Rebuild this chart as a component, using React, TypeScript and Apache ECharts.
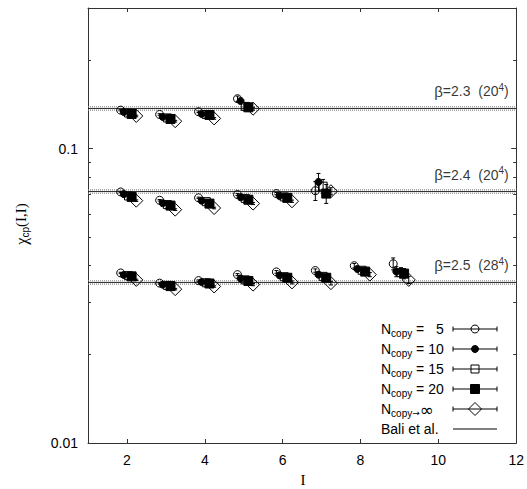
import React, { useEffect, useRef } from 'react';
import * as echarts from 'echarts';

// ---- data ----
const BETAS = ['2.3', '2.4', '2.5'];
const LATTICES = ['20', '20', '28'];
const L_B23 = [2, 3, 4, 5];
const L_B24 = [2, 3, 4, 5, 6, 7];
const L_B25 = [2, 3, 4, 5, 6, 7, 8, 9];
const NCOPY_NAMES = ['5', '10', '15', '20', '∞'];

const B23_N5 = [0.135, 0.1305, 0.1333, 0.1476];
const B23_N10 = [0.133, 0.128, 0.131, 0.145];
const B23_N15 = [0.132, 0.127, 0.1305, 0.139];
const B23_N20 = [0.131, 0.126, 0.13, 0.138];
const B23_NINF = [0.129, 0.1238, 0.1265, 0.1365];

const B24_N5 = [0.0712, 0.0667, 0.068, 0.0698, 0.0703, 0.0719];
const B24_N10 = [0.07, 0.0652, 0.0665, 0.0683, 0.069, 0.077];
const B24_N15 = [0.069, 0.0645, 0.066, 0.0677, 0.0685, 0.0745];
const B24_N20 = [0.0685, 0.064, 0.065, 0.067, 0.068, 0.0703];
const B24_NINF = [0.0665, 0.062, 0.0628, 0.065, 0.0662, 0.0716];

const B25_N5 = [0.0378, 0.0349, 0.0356, 0.0373, 0.0381, 0.0385, 0.04, 0.0406];
const B25_N10 = [0.0372, 0.0345, 0.0352, 0.0362, 0.0371, 0.0373, 0.039, 0.0382];
const B25_N15 = [0.037, 0.0343, 0.035, 0.0358, 0.0367, 0.0368, 0.0386, 0.0379];
const B25_N20 = [0.0368, 0.0341, 0.0348, 0.0355, 0.0364, 0.0364, 0.0382, 0.0376];
const B25_NINF = [0.0358, 0.0333, 0.034, 0.0345, 0.0351, 0.0349, 0.0373, 0.0358];

const B23_E5 = [0.0008, 0.0008, 0.0008, 0.003];
const B23_E10 = [0.0008, 0.0008, 0.0008, 0.002];
const B23_E15 = [0.0008, 0.0008, 0.0008, 0.0015];
const B23_E20 = [0.0008, 0.0008, 0.0008, 0.0015];
const B23_EINF = [0.0008, 0.0008, 0.0008, 0.0015];

const B24_E5 = [0.0004, 0.0004, 0.0004, 0.0005, 0.0006, 0.0053];
const B24_E10 = [0.0004, 0.0004, 0.0004, 0.0005, 0.0006, 0.0053];
const B24_E15 = [0.0004, 0.0004, 0.0004, 0.0005, 0.0006, 0.004];
const B24_E20 = [0.0004, 0.0004, 0.0004, 0.0005, 0.0006, 0.0052];
const B24_EINF = [0.0004, 0.0004, 0.0004, 0.0005, 0.0006, 0.002];

const B25_E5 = [0.0002, 0.0002, 0.0002, 0.0003, 0.0004, 0.0005, 0.0007, 0.0019];
const B25_E10 = [0.0002, 0.0002, 0.0002, 0.0003, 0.0004, 0.0005, 0.0006, 0.0015];
const B25_E15 = [0.0002, 0.0002, 0.0002, 0.0003, 0.0004, 0.0005, 0.0006, 0.0015];
const B25_E20 = [0.0002, 0.0002, 0.0002, 0.0003, 0.0004, 0.0005, 0.0006, 0.0015];
const B25_EINF = [0.0002, 0.0002, 0.0002, 0.0003, 0.0004, 0.0005, 0.0006, 0.001];

const BALI = [0.1368, 0.0714, 0.0351];
const BALI_ERR = [0.0018, 0.00093, 0.00046];

const X_TICKS = [2, 4, 6, 8, 10, 12];
const Y_MAJOR = [0.01, 0.1];
const Y_MINOR = [0.02, 0.03, 0.04, 0.05, 0.06, 0.07, 0.08, 0.09, 0.2, 0.3];

// ---- styling ----
const SANS = 'Liberation Sans, Arial, sans-serif';
const SERIF = 'Liberation Serif, Times New Roman, serif';
const X_MIN = 1;
const X_MAX = 12;
const OFFSETS = [-0.16, -0.08, 0.04, 0.12, 0.24];
const VALUES = [
  [B23_N5, B24_N5, B25_N5],
  [B23_N10, B24_N10, B25_N10],
  [B23_N15, B24_N15, B25_N15],
  [B23_N20, B24_N20, B25_N20],
  [B23_NINF, B24_NINF, B25_NINF],
];
const ERRORS = [
  [B23_E5, B24_E5, B25_E5],
  [B23_E10, B24_E10, B25_E10],
  [B23_E15, B24_E15, B25_E15],
  [B23_E20, B24_E20, B25_E20],
  [B23_EINF, B24_EINF, B25_EINF],
];
const LS = [L_B23, L_B24, L_B25];
const MARKERS = [
  { symbol: 'circle', size: 8, fill: false },
  { symbol: 'circle', size: 7, fill: true },
  { symbol: 'rect', size: 8, fill: false },
  { symbol: 'rect', size: 9, fill: true },
  { symbol: 'diamond', size: 13, fill: false },
];
const CLEAR = 'rgba(0,0,0,0)';

function buildData(k: number) {
  const out: number[][] = [];
  for (let b = 0; b < 3; b++) {
    LS[b].forEach((L, i) => {
      const v = VALUES[k][b][i];
      const e = ERRORS[k][b][i];
      out.push([L + OFFSETS[k], v, v - e, v + e]);
    });
  }
  return out;
}

const richSub = {
  n: { fontSize: 14, fontFamily: SANS, color: '#000' },
  sub: { fontSize: 10, fontFamily: SANS, color: '#000', padding: [8, 0, 0, 0] },
  arr: { fontSize: 9, fontFamily: 'DejaVu Sans, sans-serif', color: '#000', padding: [8, 0, 0, 0] },
  inf: { fontSize: 17, fontFamily: 'DejaVu Sans, sans-serif', color: '#000', padding: [2, 0, 0, 0] },
};

function legendGraphics() {
  const g: any[] = [];
  const x0 = 453, x1 = 497, xm = 475;
  const rows = [...NCOPY_NAMES, 'bali'];
  rows.forEach((name, i) => {
    const y = 329 + i * 20;
    let text: string;
    if (name === 'bali') text = '{n|Bali et al.}';
    else if (name === '∞') text = '{n|N}{sub|copy}{arr|→}{inf|∞}';
    else text = '{n|N}{sub|copy}{n| = ' + (name.length === 1 ? '  ' : '') + name + '}';
    g.push({
      type: 'text', x: 381, y, z: 100,
      style: { text, rich: richSub, align: 'left', verticalAlign: 'middle', textAlign: 'left', textVerticalAlign: 'middle' },
    });
    const ls = { stroke: '#000', lineWidth: 1 };
    g.push({ type: 'line', shape: { x1: x0, y1: y, x2: x1, y2: y }, style: ls, z: 100 });
    if (name === 'bali') return;
    g.push({ type: 'line', shape: { x1: x0, y1: y - 2.5, x2: x0, y2: y + 2.5 }, style: ls, z: 100 });
    g.push({ type: 'line', shape: { x1: x1, y1: y - 2.5, x2: x1, y2: y + 2.5 }, style: ls, z: 100 });
    const m = MARKERS[i];
    const st = { fill: m.fill ? '#000' : CLEAR, stroke: '#000', lineWidth: 1 };
    if (m.symbol === 'circle') g.push({ type: 'circle', shape: { cx: xm, cy: y, r: m.size / 2 }, style: st, z: 101 });
    else if (m.symbol === 'rect') g.push({ type: 'rect', shape: { x: xm - m.size / 2, y: y - m.size / 2, width: m.size, height: m.size }, style: st, z: 101 });
    else {
      const h = m.size / 2;
      g.push({ type: 'polygon', shape: { points: [[xm, y - h], [xm + h, y], [xm, y + h], [xm - h, y]] }, style: st, z: 101 });
    }
  });
  return g;
}

export default function App() {
  const ref = useRef<HTMLDivElement>(null);
  useEffect(() => {
    if (!ref.current) return;
    const chart = echarts.init(ref.current, null, { renderer: 'svg' });
    const axisLineStyle = { color: '#333', width: 1 };
    const xBase = {
      type: 'value', min: X_MIN, max: X_MAX, splitLine: { show: false },
      axisLine: { show: true, lineStyle: axisLineStyle },
    };
    const yBase = {
      type: 'log', logBase: 10, min: 0.01, max: 0.3, splitLine: { show: false },
    };
    const errSeries = MARKERS.map((m, k) => ({
      type: 'custom', xAxisIndex: 0, yAxisIndex: 0, z: 3,
      data: buildData(k),
      encode: { x: 0, y: 1 },
      renderItem: (params: any, api: any) => {
        const x = api.value(0);
        const p = api.coord([x, api.value(2)]);
        const q = api.coord([x, api.value(3)]);
        const st = { stroke: '#000', lineWidth: 1 };
        return {
          type: 'group',
          children: [
            { type: 'line', shape: { x1: p[0], y1: p[1], x2: q[0], y2: q[1] }, style: st },
            { type: 'line', shape: { x1: p[0] - 2, y1: p[1], x2: p[0] + 2, y2: p[1] }, style: st },
            { type: 'line', shape: { x1: q[0] - 2, y1: q[1], x2: q[0] + 2, y2: q[1] }, style: st },
          ],
        };
      },
    }));
    const markerSeries = MARKERS.map((m, k) => ({
      type: 'scatter', name: 'N' + NCOPY_NAMES[k], xAxisIndex: 0, yAxisIndex: 0, z: 4 + k,
      symbol: m.symbol, symbolSize: m.size,
      data: buildData(k).map((d) => [d[0], d[1]]),
      itemStyle: { color: m.fill ? '#000' : CLEAR, borderColor: '#000', borderWidth: 1, opacity: 1 },
    }));
    const baliSeries: any[] = [];
    BALI.forEach((v, b) => {
      const e = BALI_ERR[b];
      [v + e, v - e].forEach((yv) => {
        baliSeries.push({
          type: 'line', data: [[X_MIN, yv], [X_MAX, yv]], xAxisIndex: 0, yAxisIndex: 0, z: 1,
          showSymbol: false, symbol: 'none', silent: true,
          lineStyle: { color: '#888', type: [1, 1], width: 1.2 },
        });
      });
      baliSeries.push({
        type: 'line', data: [[X_MIN, v], [X_MAX, v]], xAxisIndex: 0, yAxisIndex: 0, z: 2,
        showSymbol: false, symbol: 'none', silent: true,
        lineStyle: { color: '#222', type: 'solid', width: 1 },
      });
    });
    const labelSeries = {
      type: 'scatter', xAxisIndex: 0, yAxisIndex: 0, z: 10, silent: true,
      symbolSize: 1, itemStyle: { color: CLEAR },
      data: BALI.map((v) => [X_MAX, v]),
      label: {
        show: true, position: 'left', distance: 7, offset: [0, -17],
        formatter: (p: any) => '{b|β}{t|=' + BETAS[p.dataIndex] + '  (' + LATTICES[p.dataIndex] + '}{sup|4}{t|)}',
        rich: {
          b: { fontSize: 15, fontFamily: SANS, color: '#000' },
          t: { fontSize: 14, fontFamily: SANS, color: '#000' },
          sup: { fontSize: 10, fontFamily: SANS, color: '#000', padding: [0, 0, 8, 0] },
        },
      },
    };
    chart.setOption({
      animation: false,
      backgroundColor: '#fff',
      grid: { left: 88, right: 10, top: 8, bottom: 46, containLabel: false },
      xAxis: [
        {
          ...xBase, position: 'bottom',
          axisTick: { show: true, inside: true, length: 4, customValues: X_TICKS, lineStyle: axisLineStyle },
          axisLabel: { show: true, customValues: X_TICKS, fontSize: 14, fontFamily: SANS, color: '#000', margin: 10 },
        },
        {
          ...xBase, position: 'top',
          axisTick: { show: true, inside: true, length: 4, customValues: X_TICKS, lineStyle: axisLineStyle },
          axisLabel: { show: false },
        },
      ],
      yAxis: [
        {
          ...yBase, position: 'left',
          axisLine: { show: true, lineStyle: axisLineStyle },
          axisTick: { show: true, inside: true, length: 5, customValues: Y_MAJOR, lineStyle: axisLineStyle },
          axisLabel: {
            show: true, customValues: Y_MAJOR, fontSize: 14, fontFamily: SANS, color: '#000', margin: 10,
            formatter: (v: number) => String(+Number(v).toPrecision(3)),
          },
        },
        {
          ...yBase, position: 'left',
          axisLine: { show: false },
          axisTick: { show: true, inside: true, length: 3, customValues: Y_MINOR, lineStyle: axisLineStyle },
          axisLabel: { show: false },
        },
        {
          ...yBase, position: 'right',
          axisLine: { show: true, lineStyle: axisLineStyle },
          axisTick: { show: true, inside: true, length: 5, customValues: Y_MAJOR, lineStyle: axisLineStyle },
          axisLabel: { show: false },
        },
        {
          ...yBase, position: 'right',
          axisLine: { show: false },
          axisTick: { show: true, inside: true, length: 3, customValues: Y_MINOR, lineStyle: axisLineStyle },
          axisLabel: { show: false },
        },
      ],
      series: [
        ...baliSeries,
        ...errSeries,
        ...markerSeries,
        labelSeries,
      ],
      graphic: [
        {
          type: 'text', x: 21, y: 224, rotation: Math.PI / 2,
          style: {
            text: '{chi|χ}{sub|cp}{p|(I,I)}',
            rich: {
              chi: { fontSize: 16, fontFamily: SERIF, color: '#000' },
              sub: { fontSize: 10, fontFamily: SANS, color: '#000', padding: [8, 0, 0, 0] },
              p: { fontSize: 15, fontFamily: SERIF, color: '#000' },
            },
            align: 'center', verticalAlign: 'middle', textAlign: 'center', textVerticalAlign: 'middle',
          },
        },
        {
          type: 'text', x: 303, y: 472,
          style: {
            text: 'I', font: '15px ' + SERIF, fill: '#000',
            align: 'center', verticalAlign: 'top', textAlign: 'center', textVerticalAlign: 'top',
          },
        },
        ...legendGraphics(),
      ],
    });
    return () => chart.dispose();
  }, []);
  return <div ref={ref} style={{ position: 'absolute', left: 0, top: 0, width: 527, height: 489 }} />;
}
